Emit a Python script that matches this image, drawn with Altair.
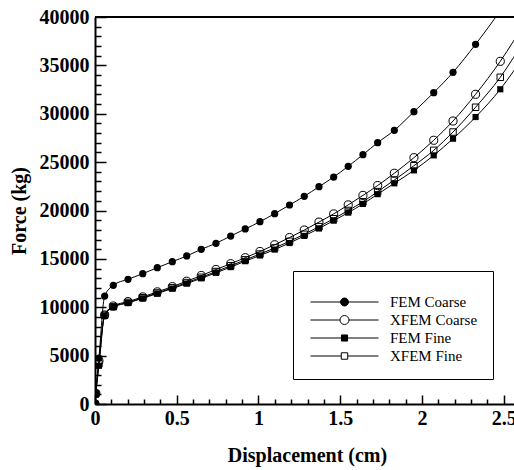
import altair as alt
import pandas as pd

FONT = "Liberation Serif"

series_names = ["FEM Coarse", "XFEM Coarse", "FEM Fine", "XFEM Fine"]

# displacement (cm) at the plotted symbols
disp = [0.0, 0.005, 0.024, 0.059, 0.112, 0.202, 0.292, 0.381, 0.473, 0.561,
        0.650, 0.740, 0.830, 0.919, 1.009, 1.099, 1.190, 1.280, 1.370, 1.460,
        1.549, 1.639, 1.729, 1.831, 1.951, 2.072, 2.190, 2.328, 2.479]
# last computed step (curve continues past the right edge, no symbol)
disp_tail = 2.64

fem_coarse = [0, 1150, 4750, 11160, 12270, 12890, 13470, 14090, 14710, 15300,
              15990, 16610, 17360, 18090, 18840, 19670, 20570, 21470, 22460, 23460,
              24570, 25770, 27010, 28290, 30210, 32180, 34280, 37180, 40650]
xfem_coarse = [0, 1100, 4450, 9200, 10130, 10580, 11070, 11590, 12130, 12690,
               13280, 13900, 14500, 15120, 15760, 16460, 17200, 17980, 18800, 19650,
               20580, 21560, 22580, 23850, 25460, 27260, 29250, 32010, 35420]
fem_fine = [0, 1000, 3950, 9150, 10020, 10450, 10920, 11420, 11930, 12450,
            12990, 13560, 14150, 14760, 15350, 15960, 16640, 17370, 18140, 18950,
            19780, 20680, 21690, 22810, 24150, 25700, 27420, 29660, 32530]
xfem_fine = [0, 1050, 4150, 9180, 10060, 10500, 10980, 11480, 12010, 12550,
             13100, 13690, 14290, 14900, 15500, 16130, 16820, 17540, 18330, 19150,
             20000, 20900, 21950, 23150, 24630, 26220, 28110, 30670, 33770]
tail_force = [44700, 39700, 36400, 38000]

x_labels = [0, 0.5, 1, 1.5, 2, 2.5]
x_ticks = [0.0, 0.1, 0.2, 0.3, 0.4, 0.5, 0.6, 0.7, 0.8, 0.9, 1.0, 1.1, 1.2,
           1.3, 1.4, 1.5, 1.6, 1.7, 1.8, 1.9, 2.0, 2.1, 2.2, 2.3, 2.4, 2.5]
y_labels = [0, 5000, 10000, 15000, 20000, 25000, 30000, 35000, 40000]
y_ticks = [0, 1000, 2000, 3000, 4000, 5000, 6000, 7000, 8000, 9000, 10000,
           11000, 12000, 13000, 14000, 15000, 16000, 17000, 18000, 19000, 20000,
           21000, 22000, 23000, 24000, 25000, 26000, 27000, 28000, 29000, 30000,
           31000, 32000, 33000, 34000, 35000, 36000, 37000, 38000, 39000, 40000]

rows = []
for name, ys, tail in zip(series_names, [fem_coarse, xfem_coarse, fem_fine, xfem_fine], tail_force):
    for xv, yv in zip(disp, ys):
        rows.append({"series": name, "x": xv, "y": yv, "marker": True})
    rows.append({"series": name, "x": disp_tail, "y": tail, "marker": False})
df = pd.DataFrame(rows)
legend_df = pd.DataFrame({"series": series_names})

W, H = 419, 387
xscale = alt.Scale(domain=[0, 2.563], nice=False, zero=False)
yscale = alt.Scale(domain=[0, 40000], nice=False, zero=False)

x_main_axis = alt.Axis(
    orient="bottom", values=x_labels, format=".1~f", ticks=False, grid=False,
    domain=True, domainWidth=2, domainColor="black",
    labelFont=FONT, labelFontSize=20, labelFontWeight="bold", labelColor="black",
    labelPadding=4, labelFlush=False, labelOverlap=False,
    title="Displacement (cm)", titleFont=FONT, titleFontSize=20, titleFontWeight="bold",
    titleColor="black", titleX=212, titleY=57, titleAlign="center", titleBaseline="alphabetic",
)
y_main_axis = alt.Axis(
    orient="left", values=y_labels, format="d", ticks=False, grid=False,
    domain=True, domainWidth=2, domainColor="black",
    labelFont=FONT, labelFontSize=20, labelFontWeight="bold", labelColor="black",
    labelPadding=6, labelFlush=False, labelOverlap=False,
    title="Force (kg)", titleFont=FONT, titleFontSize=20, titleFontWeight="bold",
    titleColor="black", titleX=-70, titleY=193.5, titleAngle=270, titleAlign="center",
    titleBaseline="alphabetic",
)
x_tick_axis = alt.Axis(
    orient="top", offset=-H, values=x_ticks, labels=False, domain=False, grid=False,
    ticks=True, tickColor="black", tickWidth=1.5,
    tickSize={"condition": {"test": "abs(datum.value*2 - round(datum.value*2)) < 0.01", "value": 9}, "value": 5},
    title=None,
)
y_tick_axis = alt.Axis(
    orient="right", offset=-W, values=y_ticks, labels=False, domain=False, grid=False,
    ticks=True, tickColor="black", tickWidth=1.5,
    tickSize={"condition": {"test": "datum.value % 5000 === 0", "value": 11}, "value": 6},
    title=None,
)

lines = alt.Chart(df).mark_line(
    interpolate="monotone", color="black", strokeWidth=1, clip=True
).encode(
    x=alt.X("x:Q", scale=xscale, axis=x_main_axis),
    y=alt.Y("y:Q", scale=yscale, axis=y_main_axis),
    detail="series:N",
)

marker_styles = {
    "FEM Coarse": dict(shape="circle", filled=True, fill="black", size=52),
    "XFEM Coarse": dict(shape="circle", filled=False, stroke="black", strokeWidth=1, size=66),
    "FEM Fine": dict(shape="square", filled=True, fill="black", size=38),
    "XFEM Fine": dict(shape="square", filled=False, stroke="black", strokeWidth=1, size=42),
}

point_layers = []
for i, name in enumerate(series_names):
    if i == 0:
        xa, ya = x_tick_axis, y_tick_axis
    else:
        xa, ya = None, None
    pl = alt.Chart(df).transform_filter(
        (alt.datum.series == name) & (alt.datum.marker == True)
    ).mark_point(opacity=1, clip=True, **marker_styles[name]).encode(
        x=alt.X("x:Q", scale=xscale, axis=xa),
        y=alt.Y("y:Q", scale=yscale, axis=ya),
    )
    point_layers.append(pl)

# legend symbols: line with the series marker (custom SVG path, unit = 8.5 px)
legend_paths = [
    "M-4,0L4,0M0.47,0A0.47,0.47,0,1,1,-0.47,0A0.47,0.47,0,1,1,0.47,0Z",
    "M-4,0L-0.53,0M0.53,0L4,0M0.53,0A0.53,0.53,0,1,1,-0.53,0A0.53,0.53,0,1,1,0.53,0Z",
    "M-4,0L4,0M-0.36,-0.36L0.36,-0.36L0.36,0.36L-0.36,0.36Z",
    "M-4,0L-0.38,0M0.38,0L4,0M-0.38,-0.38L0.38,-0.38L0.38,0.38L-0.38,0.38Z",
]
legend_fills = ["black", "white", "black", "white"]
legend_strokes = ["black", "black", "black", "black"]

leg = alt.Legend(
    title="\u00a0", titleFontSize=1, titlePadding=6,
    orient="none", legendX=198, legendY=254, padding=15,
    strokeColor="black", fillColor="white",
    symbolSize=289, symbolStrokeWidth=1,
    symbolOffset=27.5, labelOffset=36.5,
    labelFont=FONT, labelFontSize=15, labelColor="black", labelFontWeight="normal",
    rowPadding=1,
)

legend_layer = alt.Chart(legend_df).mark_point(
    filled=True, size=289, opacity=1, strokeWidth=1, clip=True
).encode(
    x=alt.value(-600),
    y=alt.value(-600),
    shape=alt.Shape("series:N", scale=alt.Scale(domain=series_names, range=legend_paths), legend=leg),
    fill=alt.Fill("series:N", scale=alt.Scale(domain=series_names, range=legend_fills), legend=leg),
    stroke=alt.Stroke("series:N", scale=alt.Scale(domain=series_names, range=legend_strokes), legend=leg),
)

top_rule = alt.Chart(legend_df).mark_rule(color="black", strokeWidth=2).encode(
    y=alt.value(0)
)

chart = alt.layer(
    lines, *point_layers, legend_layer, top_rule
).resolve_axis(
    x="independent", y="independent"
).properties(
    width=W, height=H,
    padding={"left": 95, "top": 17, "right": 0, "bottom": 66},
    autosize=alt.AutoSizeParams(type="none"),
    background="white",
).configure_view(stroke=None)

chart.save("out.html", embed_options={"renderer": "svg", "actions": False})
